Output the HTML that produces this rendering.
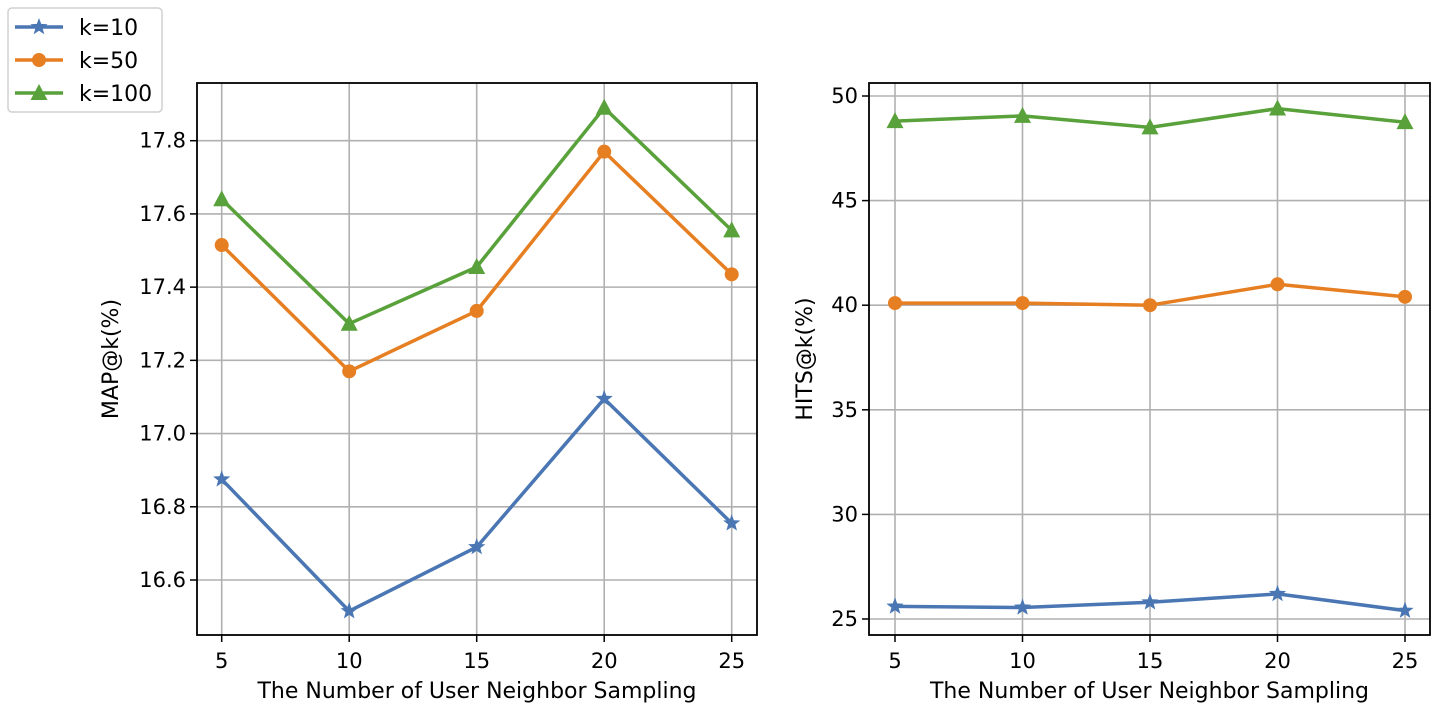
<!DOCTYPE html>
<html><head><meta charset="utf-8"><style>
body{margin:0;background:#fff;}
svg{display:block;font-family:"DejaVu Sans","Liberation Sans",sans-serif;}
</style></head><body>
<svg id="chart" width="1435" height="707"></svg>
<script>
const xCats=[5,10,15,20,25];
const leftK10=[16.875,16.515,16.69,17.095,16.755];
const leftK50=[17.515,17.17,17.335,17.77,17.435];
const leftK100=[17.64,17.30,17.455,17.89,17.555];
const rightK10=[25.6,25.55,25.8,26.2,25.4];
const rightK50=[40.1,40.1,40.0,41.0,40.4];
const rightK100=[48.8,49.05,48.5,49.4,48.75];
const leftTicks=[16.6,16.8,17.0,17.2,17.4,17.6,17.8];
const rightTicks=[25,30,35,40,45,50];
const seriesNames=["k=10","k=50","k=100"];

const NS="http://www.w3.org/2000/svg";
const svg=document.getElementById('chart');
const colors=["#4a77b4","#e67e22","#59a13a"];
const markers=["star","circle","tri"];
function mk(tag,attrs,parent){const e=document.createElementNS(NS,tag);for(const k in attrs)e.setAttribute(k,attrs[k]);(parent||svg).appendChild(e);return e;}
function marker(g,type,x,y,c){
  let e;
  if(type==="circle"){e=mk('circle',{cx:x,cy:y,r:7,fill:c},g);}
  else if(type==="tri"){e=mk('polygon',{points:`${x},${y-9} ${x-8.5},${y+7} ${x+8.5},${y+7}`,fill:c},g);}
  else{let p=[];for(let i=0;i<10;i++){const r=i%2?3.8:9;const a=-Math.PI/2+i*Math.PI/5;p.push((x+r*Math.cos(a)).toFixed(1)+","+(y+r*Math.sin(a)).toFixed(1));}
    e=mk('polygon',{points:p.join(' '),fill:c},g);}
  return e;
}
function panel(cfg){
  const {name,L,R,T,B,x5,x25,yv1,yp1,yv2,yp2,ticks,fmt,series,ytitle,ytx}=cfg;
  const g=mk('g',{});
  
  
  const xs=v=>x5+(v-5)*(x25-x5)/20;
  const ys=v=>yp1+(v-yv1)*(yp2-yp1)/(yv2-yv1);
  xCats.forEach(v=>{const X=xs(v);
    const gl=mk('line',{x1:X,x2:X,y1:T,y2:B,stroke:"#b0b0b0","stroke-width":1.6},g);
    
    mk('line',{x1:X,x2:X,y1:B,y2:B+7,stroke:"#000","stroke-width":1.5},g);
    const t=mk('text',{x:X,y:B+33,"text-anchor":"middle","font-size":21},g);t.textContent=v;
    
  });
  ticks.forEach(v=>{const Y=ys(v);
    const gl=mk('line',{x1:L,x2:R,y1:Y,y2:Y,stroke:"#b0b0b0","stroke-width":1.6},g);
    
    mk('line',{x1:L-7,x2:L,y1:Y,y2:Y,stroke:"#000","stroke-width":1.5},g);
    const t=mk('text',{x:L-11,y:Y+7,"text-anchor":"end","font-size":21},g);t.textContent=fmt(v);
    
  });
  series.forEach((vals,i)=>{
    const sg=mk('g',{},g);
    
    
    const pts=vals.map((v,j)=>xs(xCats[j]).toFixed(1)+","+ys(v).toFixed(1)).join(' ');
    mk('polyline',{points:pts,fill:"none",stroke:colors[i],"stroke-width":3.5,"stroke-linejoin":"round"},sg);
    vals.forEach((v,j)=>{const m=marker(sg,markers[i],xs(xCats[j]),ys(v),colors[i]);
      });
  });
  const fr=mk('rect',{x:L,y:T,width:R-L,height:B-T,fill:"none",stroke:"#000","stroke-width":1.8},g);
  
  const xt=mk('text',{x:(L+R)/2,y:698,"text-anchor":"middle","font-size":22},g);
  xt.textContent="The Number of User Neighbor Sampling";
  
  const yt=mk('text',{x:ytx,y:(T+B)/2,"text-anchor":"middle","font-size":22,transform:`rotate(-90 ${ytx} ${(T+B)/2})`},g);
  yt.textContent=ytitle;
  
}
panel({name:'map-panel',L:197,R:757,T:83,B:635,x5:221.7,x25:731.7,yv1:17.8,yp1:140.7,yv2:16.6,yp2:580,
  ticks:leftTicks,fmt:v=>v.toFixed(1),series:[leftK10,leftK50,leftK100],ytitle:"MAP@k(%)",ytx:118});
panel({name:'hits-panel',L:869,R:1430,T:83,B:635,x5:895,x25:1405,yv1:50,yp1:96,yv2:25,yp2:619,
  ticks:rightTicks,fmt:v=>String(v),series:[rightK10,rightK50,rightK100],ytitle:"HITS@k(%)",ytx:812});
// legend
const lg=mk('g',{});


mk('rect',{x:8,y:8,width:154,height:104,rx:4,fill:"#fff",stroke:"#d0d0d0","stroke-width":1.5},lg);
seriesNames.forEach((n,i)=>{const y=27+i*33;
  const e=mk('g',{},lg);
  
  
  mk('line',{x1:15,x2:63,y1:y,y2:y,stroke:colors[i],"stroke-width":3.5},e);
  marker(e,markers[i],39,y,colors[i]);
  const t=mk('text',{x:79,y:y+8,"font-size":22},e);t.textContent=n;
});
</script>
</body></html>
